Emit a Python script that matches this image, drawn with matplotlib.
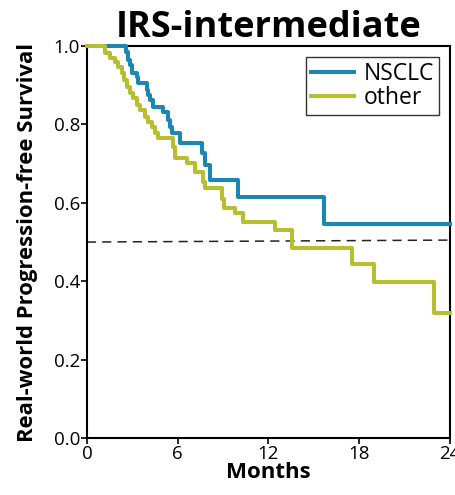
import numpy as np
import matplotlib.pyplot as plt

plt.rcParams['font.family'] = ['Open Sans', 'DejaVu Sans']

# step times (months) and survival after each step
nsclc_t = [0, 2.56, 2.74, 2.85, 2.96, 3.29, 3.40, 3.95, 4.06, 4.17, 4.39, 5.05,
           5.38, 5.50, 5.61, 6.16, 7.60, 7.81, 8.15, 10.02, 15.65, 24]
nsclc_s = [1.0, 0.985, 0.964, 0.952, 0.930, 0.922, 0.905, 0.888, 0.875, 0.862, 0.845, 0.832,
           0.811, 0.794, 0.777, 0.752, 0.726, 0.696, 0.658, 0.614, 0.546, 0.546]

other_t = [0, 1.19, 1.52, 1.85, 2.07, 2.30, 2.47, 2.63, 2.85, 3.07, 3.29, 3.51, 3.84,
           4.06, 4.28, 4.50, 4.72, 5.72, 5.83, 6.60, 7.15, 7.70, 7.81, 8.92, 9.03,
           9.80, 10.35, 12.45, 13.56, 17.53, 18.96, 22.93, 24]
other_s = [1.0, 0.981, 0.969, 0.960, 0.947, 0.930, 0.913, 0.896, 0.879, 0.867, 0.849, 0.837, 0.820,
           0.807, 0.794, 0.777, 0.765, 0.743, 0.714, 0.701, 0.679, 0.654, 0.637, 0.611, 0.586,
           0.573, 0.552, 0.532, 0.484, 0.443, 0.399, 0.320, 0.320]

blue = '#1b87b3'
green = '#b8bf2e'

fig = plt.figure(figsize=(4.55, 4.95), dpi=100)
ax = fig.add_axes([0.191, 0.115, 0.798, 0.792])

ax.step(nsclc_t, nsclc_s, where='post', color=blue, lw=2.9, label='NSCLC',
        clip_on=False, zorder=4)
ax.step(other_t, other_s, where='post', color=green, lw=2.9, label='other',
        clip_on=False, zorder=5)
ax.plot([0, 24], [0.5, 0.505], color='#222222', lw=1.1, dashes=(6, 4))

ax.set_xlim(0, 24)
ax.set_ylim(0, 1.0)
ax.set_xticks([0, 6, 12, 18, 24])
ax.set_yticks([0.0, 0.2, 0.4, 0.6, 0.8, 1.0])
ax.set_yticklabels(['0.0', '0.2', '0.4', '0.6', '0.8', '1.0'])
ax.tick_params(labelsize=13.5, length=4, width=1.2, pad=1)
for sp in ax.spines.values():
    sp.set_linewidth(1.5)

ax.set_xlabel('Months', fontsize=16, fontweight='bold', labelpad=-1)
ax.set_ylabel('Real-world Progression-free Survival', fontsize=15.8, fontweight='bold', labelpad=11)
ax.set_title('IRS-intermediate', fontsize=26, fontweight='bold', pad=3)

leg = ax.legend(loc='upper right', fontsize=16.5, frameon=True, fancybox=False,
                edgecolor='black', handlelength=1.9, handletextpad=0.4,
                borderpad=0.2, labelspacing=0.0, borderaxespad=0.5)
leg.get_frame().set_linewidth(1.0)

fig.savefig('out.png', dpi=100)
